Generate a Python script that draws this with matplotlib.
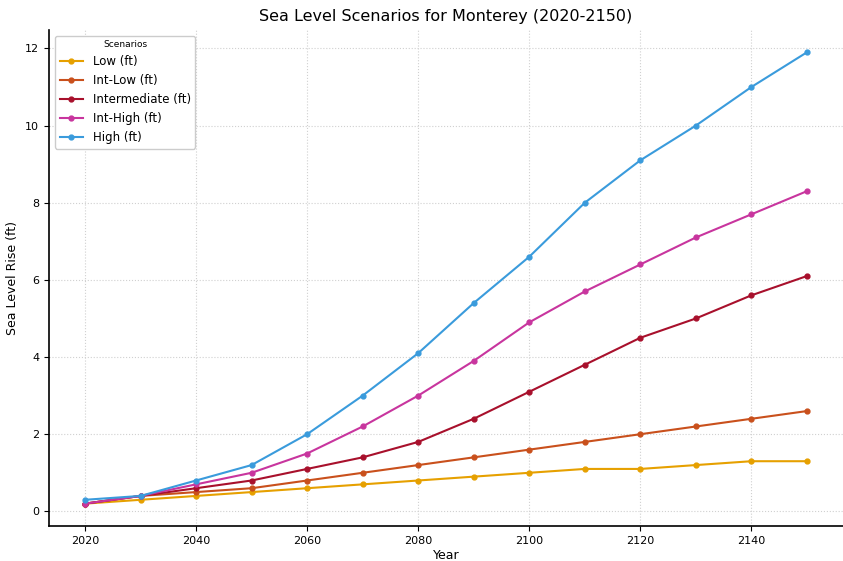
import numpy as np
import matplotlib.pyplot as plt

years = [2020, 2030, 2040, 2050, 2060, 2070, 2080, 2090, 2100, 2110, 2120, 2130, 2140, 2150]
low = [0.2, 0.3, 0.4, 0.5, 0.6, 0.7, 0.8, 0.9, 1.0, 1.1, 1.1, 1.2, 1.3, 1.3]
int_low = [0.2, 0.4, 0.5, 0.6, 0.8, 1.0, 1.2, 1.4, 1.6, 1.8, 2.0, 2.2, 2.4, 2.6]
intermediate = [0.2, 0.4, 0.6, 0.8, 1.1, 1.4, 1.8, 2.4, 3.1, 3.8, 4.5, 5.0, 5.6, 6.1]
int_high = [0.2, 0.4, 0.7, 1.0, 1.5, 2.2, 3.0, 3.9, 4.9, 5.7, 6.4, 7.1, 7.7, 8.3]
high = [0.3, 0.4, 0.8, 1.2, 2.0, 3.0, 4.1, 5.4, 6.6, 8.0, 9.1, 10.0, 11.0, 11.9]

labels = ["Low (ft)", "Int-Low (ft)", "Intermediate (ft)", "Int-High (ft)", "High (ft)"]
colors = ["#E6A000", "#C9501C", "#A8102C", "#C8359E", "#3A9BDC"]

fig, ax = plt.subplots(figsize=(8.43, 5.61), dpi=100)
for vals, lab, col in zip([low, int_low, intermediate, int_high, high], labels, colors):
    ax.plot(years, vals, marker="o", markersize=3.5, linewidth=1.5, color=col, label=lab)

ax.set_title("Sea Level Scenarios for Monterey (2020-2150)", fontsize=11.5)
ax.set_xlabel("Year", fontsize=9, labelpad=2)
ax.set_ylabel("Sea Level Rise (ft)", fontsize=9)
ax.tick_params(labelsize=8)
ax.set_xticks([2020, 2040, 2060, 2080, 2100, 2120, 2140])
ax.set_yticks([0, 2, 4, 6, 8, 10, 12])
ax.grid(True, linestyle=":", color="#d0d0d0", linewidth=0.8)
ax.spines["top"].set_visible(False)
ax.spines["right"].set_visible(False)
ax.spines["left"].set_linewidth(1.2)
ax.spines["bottom"].set_linewidth(1.2)
leg = ax.legend(title="Scenarios", loc="upper left", fontsize=8.5, title_fontsize=6.5,
                framealpha=1, borderaxespad=0.5)

fig.subplots_adjust(left=0.058, right=1.0, top=0.947, bottom=0.062)
fig.savefig("out.png", dpi=100)
